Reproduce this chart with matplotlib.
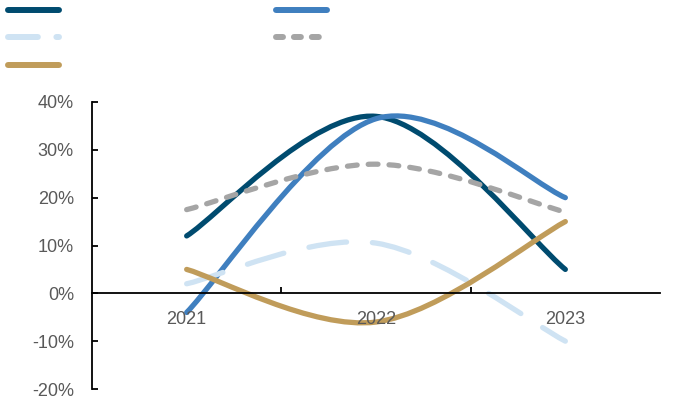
import numpy as np
import matplotlib.pyplot as plt
from matplotlib.path import Path
from matplotlib.patches import PathPatch
from matplotlib.lines import Line2D

plt.rcParams['font.family'] = ['Liberation Sans', 'DejaVu Sans']

years = ['2021', '2022', '2023']
s_navy = [12, 37, 5]
s_blue = [-4, 36.5, 20]
s_light = [2, 10.5, -10]
s_gray = [17.5, 27, 17]
s_gold = [5, -6, 15]

c_navy = '#004B6F'
c_blue = '#3F7FBF'
c_light = '#CFE3F3'
c_gray = '#A5A5A5'
c_gold = '#C09C5A'

ls_light = (0, (7.2, 4.9))
ls_gray = (0, (1.85, 2.1))
ls_light_leg = (0, (5.0, 3.1))
ls_gray_leg = (0, (1.17, 1.83))
lw = 3.8


def smooth_path(xs, ys):
    # excel-like smoothed line: bezier segments, control points from neighbours
    pts = np.column_stack([xs, ys]).astype(float)
    n = len(pts)
    verts = [pts[0]]
    codes = [Path.MOVETO]
    for i in range(n - 1):
        p_prev = pts[i - 1] if i > 0 else pts[i]
        p_next2 = pts[i + 2] if i + 2 < n else pts[i + 1]
        c1 = pts[i] + (pts[i + 1] - p_prev) / 6
        c2 = pts[i + 1] - (p_next2 - pts[i]) / 6
        verts += [c1, c2, pts[i + 1]]
        codes += [Path.CURVE4] * 3
    return Path(verts, codes)


fig = plt.figure(figsize=(6.75, 4.03), dpi=100)
ax = fig.add_axes([92 / 675, 1 - 389 / 403, 568 / 675, 287 / 403])

x = np.arange(len(years))
series = [(s_navy, c_navy, '-', '-'), (s_blue, c_blue, '-', '-'),
          (s_light, c_light, ls_light, ls_light_leg),
          (s_gray, c_gray, ls_gray, ls_gray_leg), (s_gold, c_gold, '-', '-')]
for ys, col, ls, _ in series:
    p = PathPatch(smooth_path(x, ys), fill=False, edgecolor=col, lw=lw,
                  linestyle=ls, capstyle='round', joinstyle='round')
    ax.add_patch(p)

ax.set_xlim(-0.5, 2.5)
ax.set_ylim(-20, 40)
ax.set_yticks(np.arange(-20, 41, 10))
ax.set_yticklabels([f'{v}%' for v in range(-20, 41, 10)])

ax.spines['top'].set_visible(False)
ax.spines['right'].set_visible(False)
ax.spines['bottom'].set_position(('data', 0))
for s in ['left', 'bottom']:
    ax.spines[s].set_linewidth(1.3)
    ax.spines[s].set_color('black')

ax.set_xticks([0.5, 1.5])
ax.set_xticklabels([])
ax.set_xticks(x, minor=True)
ax.set_xticklabels(years, minor=True)
ax.tick_params(axis='x', which='major', direction='in', length=4, width=1.3, color='black')
ax.tick_params(axis='x', which='minor', length=0, pad=12.5, labelsize=13, labelcolor='#595959')
ax.tick_params(axis='y', direction='in', length=4, width=1.3, pad=13,
               labelsize=13, labelcolor='#595959')

handles = [Line2D([], [], color=c, lw=4.3, linestyle=lsl, solid_capstyle='round',
                  dash_capstyle='round') for ys, c, ls, lsl in series]
order = [0, 2, 4, 1, 3]
fig.legend([handles[i] for i in order], [''] * 5, ncol=2, loc='upper left',
           bbox_to_anchor=(8 / 675, 1 - 3.5 / 403), frameon=False, borderpad=0,
           handlelength=3.67, handletextpad=0, columnspacing=15.6,
           labelspacing=0.98, fontsize=10, borderaxespad=0)

fig.savefig('out.png', dpi=100)
